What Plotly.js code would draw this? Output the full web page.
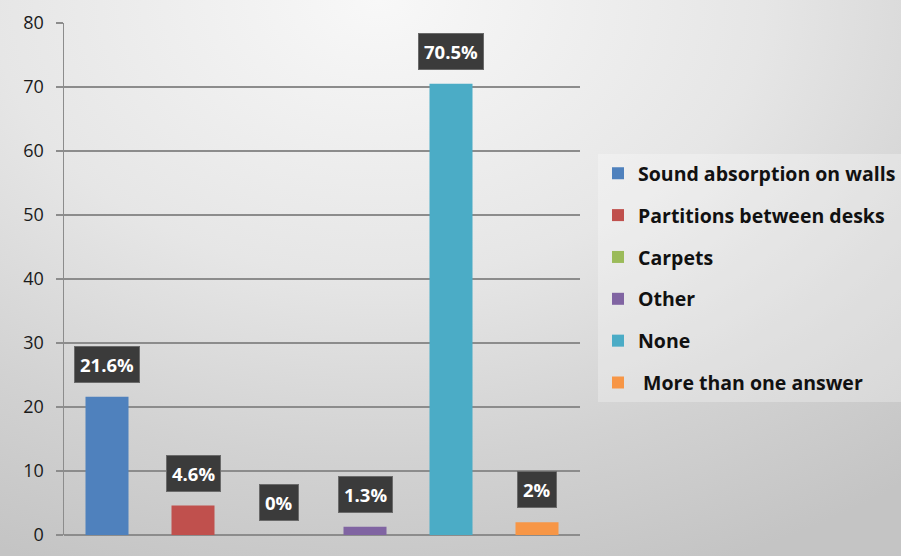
<!DOCTYPE html>
<html>
<head>
<meta charset="utf-8">
<script src="https://cdn.plot.ly/plotly-3.0.1.min.js"></script>
<style>
html,body{margin:0;padding:0;}
#chart{width:901px;height:556px;background:radial-gradient(ellipse 95% 110% at 42% 0%, #f8f8f8 0%, #e6e6e6 45%, #d2d2d2 75%, #c4c4c4 100%);}
</style>
</head>
<body>
<div id="chart"></div>
<script>
var categories = ["Sound absorption on walls", "Partitions between desks", "Carpets", "Other", "None", " More than one answer"];
var values = [21.6, 4.6, 0, 1.3, 70.5, 2];
var labels = ["21.6%", "4.6%", "0%", "1.3%", "70.5%", "2%"];
var colors = ["#4f81bd", "#c0504d", "#9bbb59", "#8064a2", "#4bacc6", "#f79646"];
var yTicks = [0, 10, 20, 30, 40, 50, 60, 70, 80];

var traces = categories.map(function(c, i) {
  return {
    type: "bar",
    name: c,
    x: [c],
    y: [values[i]],
    width: 0.5,
    marker: {color: colors[i]},
    legendgroup: "g" + i,
    hoverinfo: "none"
  };
});

var annotations = categories.map(function(c, i) {
  return {
    x: c, y: values[i], xref: "x", yref: "y",
    text: labels[i], showarrow: false,
    yanchor: "bottom", yshift: 14,
    bgcolor: "#3b3b3b", bordercolor: "#6a6a6a", borderwidth: 1, borderpad: 5,
    font: {family: "Open Sans, sans-serif", size: 18.5, color: "#ffffff", weight: "bold"}
  };
});

var layout = {
  width: 901, height: 556,
  margin: {l: 64, r: 0, t: 23, b: 21},
  paper_bgcolor: "rgba(0,0,0,0)",
  plot_bgcolor: "rgba(0,0,0,0)",
  barmode: "overlay",
  showlegend: true,
  xaxis: {
    domain: [0, 516 / 804],
    type: "category", categoryorder: "array", categoryarray: categories,
    range: [-0.5, 5.5], showticklabels: false, showgrid: false, zeroline: false,
    showline: false, ticks: "", fixedrange: true
  },
  yaxis: {
    range: [0, 80], tickvals: yTicks, ticktext: yTicks.map(String),
    showgrid: true, gridcolor: "#8c8c8c", gridwidth: 1.5,
    zeroline: true, zerolinecolor: "#8c8c8c", zerolinewidth: 1.5,
    showline: true, linecolor: "#8c8c8c", linewidth: 1.5,
    ticks: "outside", ticklen: 7, tickcolor: "#8c8c8c", tickwidth: 1.5,
    ticklabelstandoff: 8,
    tickfont: {family: "Open Sans, sans-serif", size: 18, color: "#1a1a1a"},
    fixedrange: true
  },
  legend: {
    x: 534 / 804, xanchor: "left", y: 0.744, yanchor: "top",
    bgcolor: "rgba(255,255,255,0.28)", borderwidth: 0,
    traceorder: "grouped", tracegroupgap: 13.5,
    font: {family: "Open Sans, sans-serif", size: 19.5, color: "#111111", weight: "bold"},
    itemwidth: 30
  },
  annotations: annotations
};

Plotly.newPlot("chart", traces, layout, {displayModeBar: false, staticPlot: true});
</script>
</body>
</html>
